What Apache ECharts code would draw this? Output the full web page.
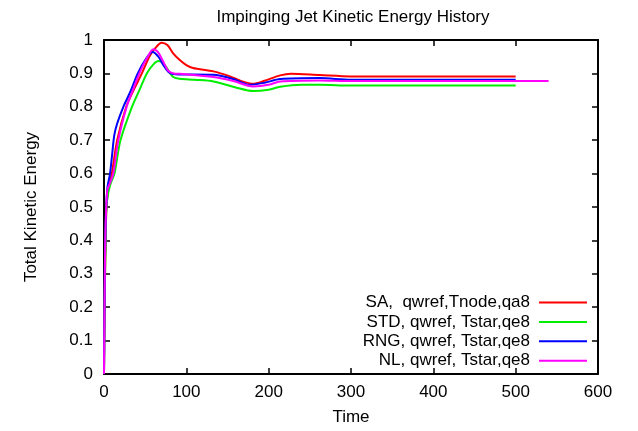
<!DOCTYPE html>
<html>
<head>
<meta charset="utf-8">
<script src="https://cdn.jsdelivr.net/npm/echarts@6/dist/echarts.min.js"></script>
<style>html,body{margin:0;padding:0;background:#fff;}#c{width:638px;height:431px;}</style>
</head>
<body>
<div id="c"></div>
<script>
const chartTitle = "Impinging Jet Kinetic Energy History";
const xName = "Time";
const yName = "Total Kinetic Energy";
const seriesNames = ["SA,  qwref,Tnode,qa8", "STD, qwref, Tstar,qe8", "RNG, qwref, Tstar,qe8", "NL, qwref, Tstar,qe8"];
const seriesColors = ["#ff0000", "#00ee00", "#0000ff", "#ff00ff"];

const saData = [[0,0],[1,0.25],[2,0.4],[3,0.5],[5,0.55],[9.5,0.6],[16,0.7],[27,0.8],[36,0.85],[46,0.9],[55,0.95],[62,0.975],[70,0.992],[77,0.985],[84,0.96],[92,0.94],[100,0.925],[108,0.916],[133,0.906],[153,0.891],[168,0.876],[181,0.869],[195,0.878],[214,0.894],[227,0.899],[262,0.895],[300,0.891],[400,0.891],[500,0.891]];
const stdData = [[0,0],[1,0.25],[2,0.4],[3,0.5],[5,0.54],[8,0.57],[12.7,0.6],[20,0.7],[34,0.8],[43,0.85],[52,0.9],[60,0.927],[66,0.937],[72,0.93],[78,0.91],[84,0.889],[92,0.884],[110,0.881],[133,0.876],[160,0.858],[181,0.847],[200,0.851],[214,0.86],[240,0.866],[262,0.866],[300,0.8635],[400,0.8635],[500,0.8635]];
const rngData = [[0,0],[1,0.3],[2,0.45],[4,0.555],[7.3,0.6],[10,0.66],[12.5,0.715],[16,0.75],[23.5,0.8],[32,0.845],[41,0.9],[50,0.94],[59,0.964],[66,0.95],[72,0.925],[78,0.905],[84,0.898],[92,0.897],[133,0.896],[157,0.883],[177,0.866],[195,0.872],[214,0.883],[262,0.886],[300,0.881],[400,0.881],[500,0.881]];
const nlData = [[0,0],[1,0.3],[2,0.45],[4,0.55],[7,0.57],[11.3,0.6],[17.4,0.7],[27.5,0.8],[35,0.85],[43,0.9],[52,0.945],[60,0.972],[66,0.962],[72,0.935],[78,0.908],[85,0.9],[92,0.899],[133,0.889],[157,0.877],[181,0.861],[200,0.866],[214,0.876],[262,0.879],[300,0.877],[400,0.877],[540,0.877]];
const allData = [saData, stdData, rngData, nlData];

const font = "Liberation Sans, Arial, Helvetica, sans-serif";
function axisCommon() {
  return {
    axisLine: {show: true, onZero: false, lineStyle: {color: "#000", width: 2}},
    axisTick: {show: true, inside: true, length: 6, lineStyle: {color: "#000", width: 1.5}},
    splitLine: {show: false}
  };
}

const legends = seriesNames.map((n, i) => ({
  data: [n],
  right: 51,
  top: 294 + i * 19.4,
  align: "right",
  icon: "rect",
  itemWidth: 48,
  itemHeight: 2,
  padding: 0,
  textStyle: {fontFamily: font, fontSize: 17, color: "#000", padding: [0, 4, 0, 0]}
}));

const chart = echarts.init(document.getElementById("c"), null, {renderer: "canvas"});
chart.setOption({
  animation: false,
  backgroundColor: "#fff",
  title: {text: chartTitle, left: 348, top: 4, textAlign: "center", textStyle: {fontFamily: font, fontSize: 17, fontWeight: "normal", color: "#000"}},
  legend: legends,
  grid: {left: 104, right: 40, top: 40, bottom: 54},
  xAxis: [
    Object.assign({type: "value", min: 0, max: 600, interval: 100, position: "bottom",
      name: xName, nameLocation: "middle", nameGap: 35,
      nameTextStyle: {fontFamily: font, fontSize: 17, color: "#000"},
      axisLabel: {fontFamily: font, fontSize: 17, color: "#000", margin: 10}}, axisCommon()),
    Object.assign({type: "value", min: 0, max: 600, interval: 100, position: "top",
      axisLabel: {show: false}}, axisCommon())
  ],
  yAxis: [
    Object.assign({type: "value", min: 0, max: 1, interval: 0.1, position: "left",
      name: yName, nameLocation: "middle", nameGap: 64, nameRotate: 90,
      nameTextStyle: {fontFamily: font, fontSize: 17, color: "#000"},
      axisLabel: {fontFamily: font, fontSize: 17, color: "#000", margin: 11,
        formatter: v => String(Math.round(v * 10) / 10)}}, axisCommon()),
    Object.assign({type: "value", min: 0, max: 1, interval: 0.1, position: "right",
      axisLabel: {show: false}}, axisCommon())
  ],
  series: allData.map((d, i) => ({
    name: seriesNames[i],
    type: "line",
    data: d,
    smooth: 0.3,
    showSymbol: false,
    symbol: "none",
    lineStyle: {color: seriesColors[i], width: 2},
    itemStyle: {color: seriesColors[i]},
    z: 2 + i
  }))
});
</script>
</body>
</html>
